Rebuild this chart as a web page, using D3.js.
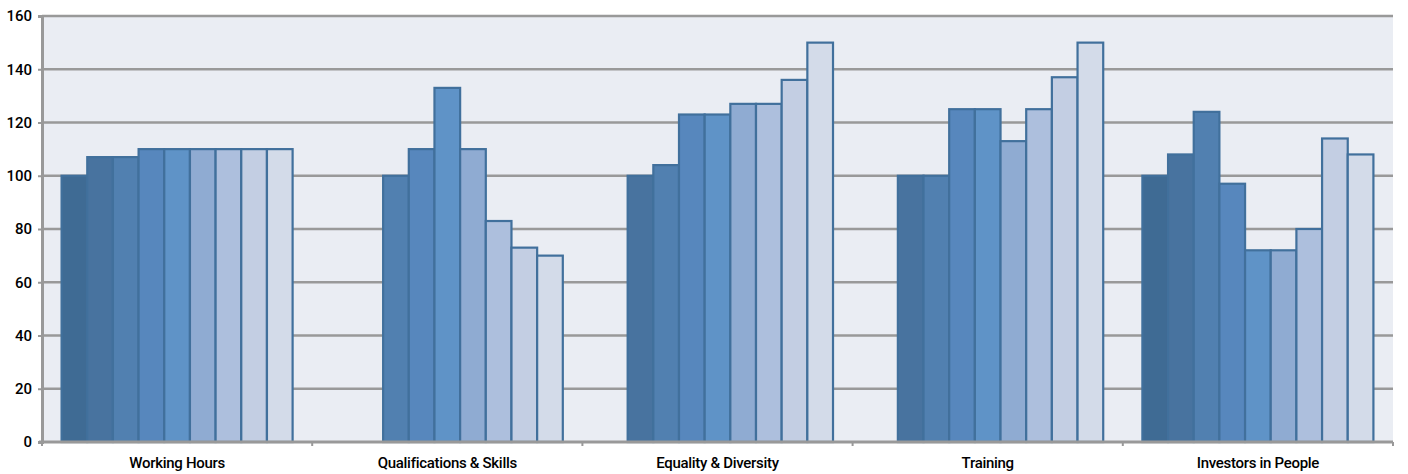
<!DOCTYPE html>
<html>
<head>
<meta charset="utf-8">
<script src="https://cdn.jsdelivr.net/npm/d3@7"></script>
<style>
  html, body { margin: 0; padding: 0; background: #ffffff; }
  svg { display: block; }
  text { font-family: "Roboto", "Liberation Sans", sans-serif; font-weight: 500; fill: #000; }
</style>
</head>
<body>
<svg id="chart" width="1408" height="474"></svg>
<script>
// Categories along the x axis
const categories = ["Working Hours", "Qualifications & Skills", "Equality & Diversity", "Training", "Investors in People"];

// Nine series, one value per category (null = no bar)
const series1 = [100, null, null, null, 100];
const series2 = [107, null, 100, 100, 108];
const series3 = [107, 100, 104, 100, 124];
const series4 = [110, 110, 123, 125, 97];
const series5 = [110, 133, 123, 125, 72];
const series6 = [110, 110, 127, 113, 72];
const series7 = [110, 83, 127, 125, 80];
const series8 = [110, 73, 136, 137, 114];
const series9 = [110, 70, 150, 150, 108];
const seriesValues = [series1, series2, series3, series4, series5, series6, series7, series8, series9];

// Fill colours, dark to light
const seriesColors = ["#3f6b94", "#48739f", "#5180b0", "#5787bd", "#5f93c7", "#8fabd2", "#adbfdd", "#c3cee3", "#d3dbe9"];

// Y axis ticks
const yTicks = [0, 20, 40, 60, 80, 100, 120, 140, 160];

const svg = d3.select("#chart");
const margin = { top: 16, right: 15, bottom: 32, left: 42 };
const W = 1408, H = 474;
const plotLeft = margin.left, plotRight = W - margin.right;
const plotTop = margin.top, plotBottom = H - margin.bottom;

const x0 = d3.scaleBand().domain(categories).range([plotLeft, plotRight]).paddingInner(0).paddingOuter(0);
const x1 = d3.scaleBand().domain(d3.range(seriesValues.length)).range([0, x0.bandwidth()])
  .paddingInner(0).paddingOuter(0.763);
const y = d3.scaleLinear().domain([0, 160]).range([plotBottom, plotTop]);

// Plot background
svg.append("rect")
  .attr("x", plotLeft).attr("y", plotTop)
  .attr("width", plotRight - plotLeft).attr("height", plotBottom - plotTop)
  .attr("fill", "#eaedf3");

// Horizontal gridlines
svg.append("g")
  .selectAll("line")
  .data(yTicks.filter(d => d > 0))
  .join("line")
  .attr("x1", plotLeft).attr("x2", plotRight)
  .attr("y1", d => y(d)).attr("y2", d => y(d))
  .attr("stroke", "#999999")
  .attr("stroke-width", 2.5);

// Bars
const bars = [];
categories.forEach((c, ci) => {
  seriesValues.forEach((vals, si) => {
    const v = vals[ci];
    if (v != null) bars.push({ c, si, v });
  });
});

svg.append("g")
  .selectAll("rect")
  .data(bars)
  .join("rect")
  .attr("x", d => x0(d.c) + x1(d.si))
  .attr("y", d => y(d.v))
  .attr("width", x1.bandwidth())
  .attr("height", d => y(0) - y(d.v))
  .attr("fill", d => seriesColors[d.si])
  .attr("stroke", "#41709c")
  .attr("stroke-width", 2.2);

// Y axis
const yAxis = d3.axisLeft(y).tickValues(yTicks).tickSize(4).tickPadding(6);
const gy = svg.append("g").attr("transform", `translate(${plotLeft},0)`).call(yAxis);
gy.select(".domain").attr("stroke", "#999").attr("stroke-width", 3);
gy.selectAll(".tick line").attr("stroke", "#999").attr("stroke-width", 2);
gy.selectAll(".tick text").attr("font-size", 15).attr("fill", "#000")
  .style("font-family", "Roboto, 'Liberation Sans', sans-serif")
  .style("font-weight", 500);

// X axis: baseline, ticks at category boundaries, centred labels
const gx = svg.append("g");
gx.append("line")
  .attr("x1", plotLeft - 3).attr("x2", plotRight)
  .attr("y1", plotBottom).attr("y2", plotBottom)
  .attr("stroke", "#999").attr("stroke-width", 3);
const boundaries = categories.map(c => x0(c)).concat([plotRight]);
gx.selectAll("line.tk")
  .data(boundaries)
  .join("line")
  .attr("class", "tk")
  .attr("x1", d => d).attr("x2", d => d)
  .attr("y1", plotBottom).attr("y2", plotBottom + 4)
  .attr("stroke", "#999").attr("stroke-width", 2);
gx.selectAll("text")
  .data(categories)
  .join("text")
  .attr("x", d => x0(d) + x0.bandwidth() / 2)
  .attr("y", plotBottom + 26)
  .attr("text-anchor", "middle")
  .attr("font-size", 15)
  .attr("letter-spacing", -0.3)
  .text(d => d);
</script>
</body>
</html>
